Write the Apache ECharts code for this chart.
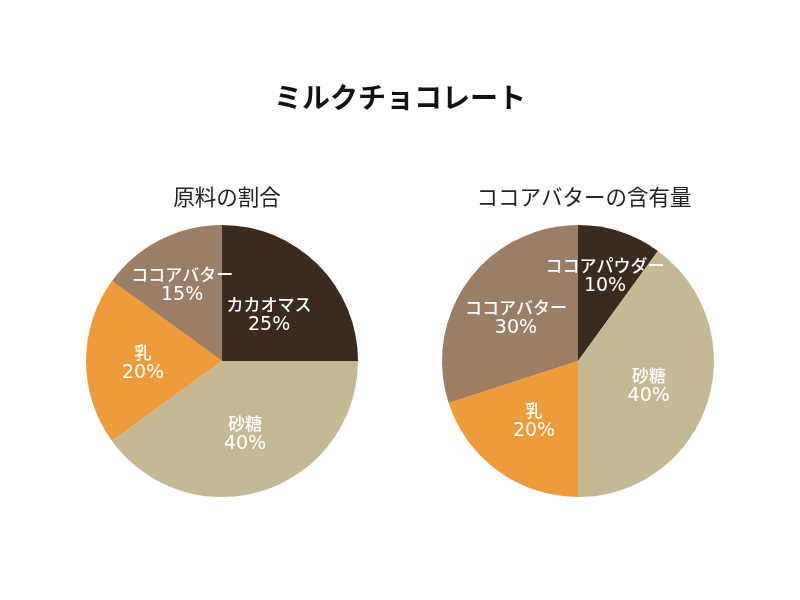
<!DOCTYPE html>
<html>
<head>
<meta charset="utf-8">
<script src="https://cdn.jsdelivr.net/npm/echarts@6/dist/echarts.min.js"></script>
<style>
  html, body { margin: 0; padding: 0; background: #fff; }
  #chart { width: 800px; height: 600px; }
</style>
</head>
<body>
<div id="chart"></div>
<script>
// 原料の割合
const ingredientNames = ['カカオマス', '砂糖', '乳', 'ココアバター'];
const ingredientValues = [25, 40, 20, 15];

// ココアバターの含有量
const butterNames = ['ココアパウダー', '砂糖', '乳', 'ココアバター'];
const butterValues = [10, 40, 20, 30];

const sliceColors = ['#3b2a1e', '#c5b994', '#ee9b3a', '#9a7f66'];

// ラベルの微調整 (扇形中央からのずれ px)
const ingredientLabelShift = [[-1, 2], [2, 8], [-11, 2], [-9, -15]];
const butterLabelShift = [[6, -20], [6, 4], [-4, 5], [-7, -3]];

const FONT = '"Noto Sans CJK JP", "Noto Sans", sans-serif';

const chart = echarts.init(document.getElementById('chart'), null, { renderer: 'canvas' });

function toData(names, values) {
  return names.map((n, i) => ({ name: n, value: values[i], itemStyle: { color: sliceColors[i] } }));
}

const pieBase = {
  type: 'pie',
  radius: 136,
  startAngle: 90,
  clockwise: true,
  silent: true,
  label: { show: false },
  labelLine: { show: false },
  itemStyle: { borderWidth: 0 }
};

chart.setOption({
  backgroundColor: '#fff',
  animation: false,
  title: [
    {
      text: 'ミルクチョコレート',
      left: 'center',
      top: 78,
      textStyle: { fontFamily: FONT, fontSize: 28, fontWeight: 'bold', color: '#111' }
    },
    {
      text: '原料の割合',
      left: 222, top: 181,
      textAlign: 'center',
      textStyle: { fontFamily: FONT, fontSize: 21.5, fontWeight: 'normal', color: '#222' }
    },
    {
      text: 'ココアバターの含有量',
      left: 579, top: 181,
      textAlign: 'center',
      textStyle: { fontFamily: FONT, fontSize: 21.5, fontWeight: 'normal', color: '#222' }
    }
  ],
  series: [
    Object.assign({}, pieBase, {
      center: [222, 361],
      data: toData(ingredientNames, ingredientValues)
    }),
    Object.assign({}, pieBase, {
      center: [578, 361],
      data: toData(butterNames, butterValues)
    })
  ]
});

// 内側ラベル: 扇形のレイアウトから位置を求めて描く
// (pie の inside ラベルは扇形からはみ出すと消えるため)
function sliceLabels(seriesIndex, names, values, shifts) {
  const data = chart.getModel().getSeriesByIndex(seriesIndex).getData();
  return names.map((n, i) => {
    const l = data.getItemLayout(i);
    const mid = (l.startAngle + l.endAngle) / 2;
    const rr = l.r * 0.5;
    return {
      type: 'text',
      silent: true,
      z: 100,
      style: {
        x: l.cx + rr * Math.cos(mid) + shifts[i][0],
        y: l.cy + rr * Math.sin(mid) + shifts[i][1],
        text: '{n|' + n + '}\n{p|' + values[i] + '%}',
        align: 'center',
        verticalAlign: 'middle',
        fill: '#fff',
        rich: {
          n: { fontFamily: FONT, fontSize: 17, fontWeight: 500, lineHeight: 20, fill: '#fff', align: 'center' },
          p: { fontFamily: '"DejaVu Sans", sans-serif', fontSize: 19, lineHeight: 21, fill: '#fff', align: 'center' }
        }
      }
    };
  });
}

chart.setOption({
  graphic: sliceLabels(0, ingredientNames, ingredientValues, ingredientLabelShift)
    .concat(sliceLabels(1, butterNames, butterValues, butterLabelShift))
});
</script>
</body>
</html>
